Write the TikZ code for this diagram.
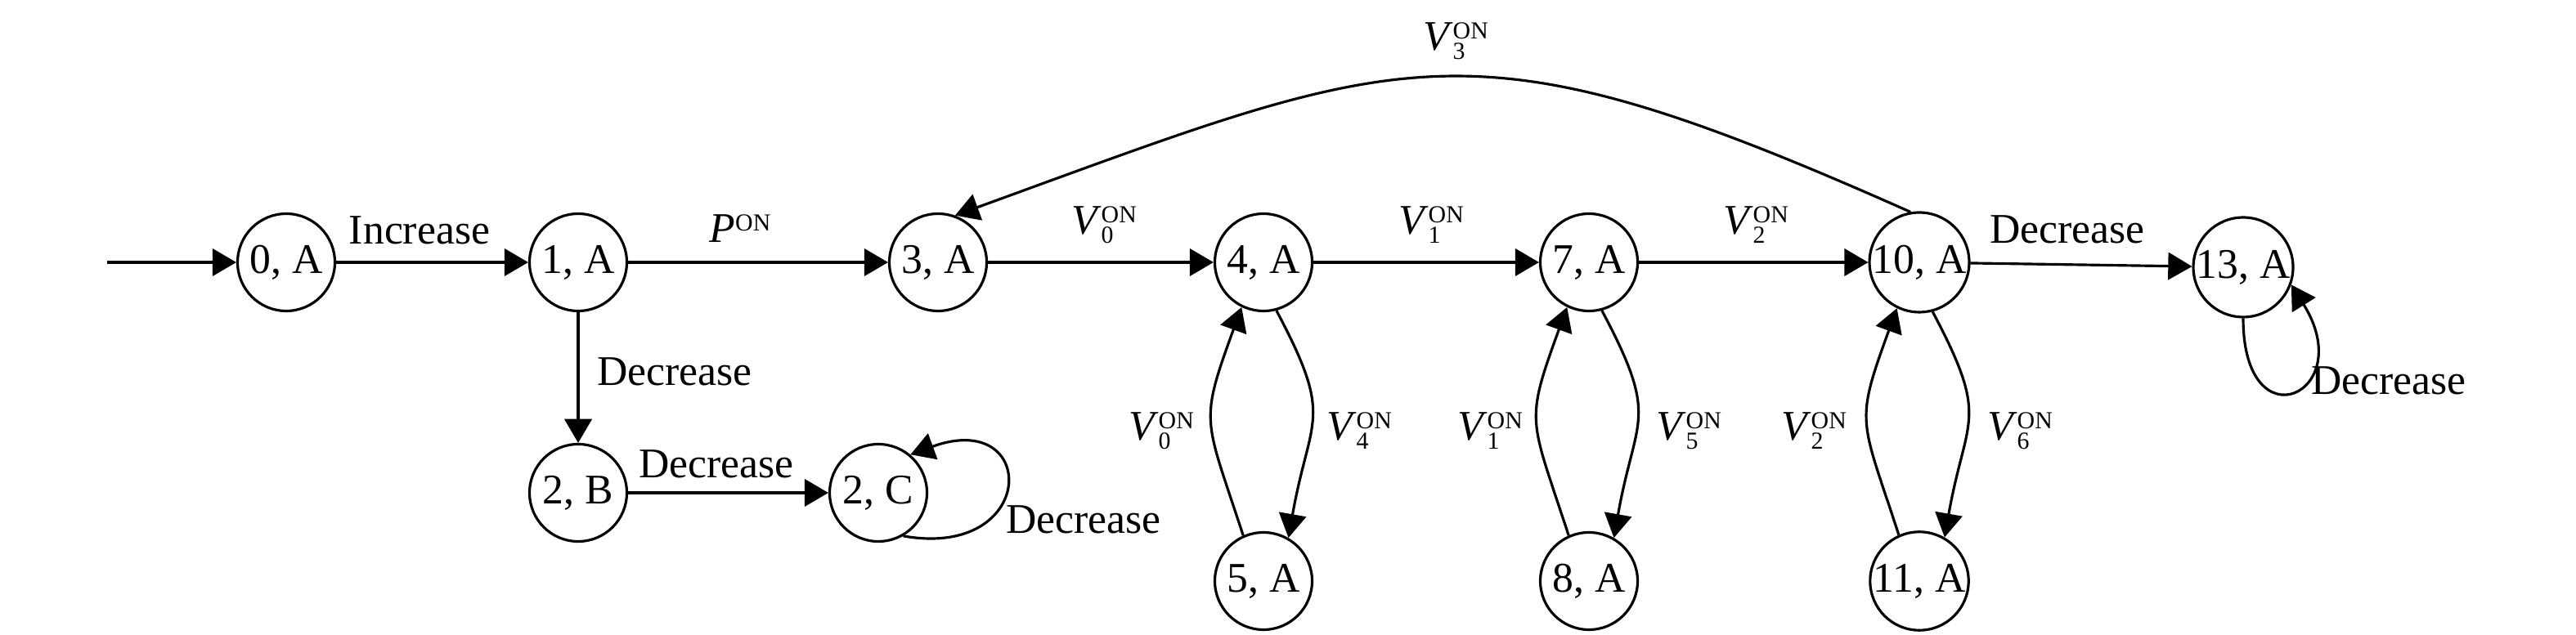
\documentclass[tikz,border=0pt]{standalone}
\usepackage{fontspec}
\setmainfont{Liberation Serif}
\usetikzlibrary{
  arrows.meta,
  positioning
}
\tikzset{
  stnode/.style={draw, circle, line width=0.9pt, minimum size=1.19cm, inner sep=0pt},
  trans/.style={line width=0.9pt, -{Triangle[length=8.3pt,width=9.5pt]}}
}
\newcommand{\subsz}{\fontsize{8.5}{10}\selectfont}
\newcommand{\von}[1]{\textit{V}\rlap{\raisebox{-3pt}{\subsz #1}}\raisebox{4pt}{\subsz ON}}

\begin{document}
\begin{tikzpicture}[font=\fontsize{14.7}{17}\selectfont]
  \useasboundingbox (0,0) rectangle (31.5,7.77);
  % states
  \node[stnode] (s0) at (3.50,4.56) {0, A};
  \node[stnode] (s1) at (7.07,4.56) {1, A};
  \node[stnode] (s3) at (11.47,4.56) {3, A};
  \node[stnode] (s4) at (15.45,4.56) {4, A};
  \node[stnode] (s7) at (19.43,4.56) {7, A};
  \node[stnode] (s10) at (23.47,4.56) {10, A};
  \node[stnode] (s13) at (27.43,4.50) {13, A};
  \node[stnode] (s2b) at (7.07,1.74) {2, B};
  \node[stnode] (s2c) at (10.74,1.74) {2, C};
  \node[stnode] (s5) at (15.45,0.66) {5, A};
  \node[stnode] (s8) at (19.43,0.66) {8, A};
  \node[stnode] (s11) at (23.47,0.66) {11, A};
  \coordinate (in0) at (1.31,4.56);

  % transitions
  \draw[trans] (in0) -- (s0);
  \draw[trans] (s0) -- (s1);
  \draw[trans] (s1) -- (s3);
  \draw[trans] (s1) -- (s2b);
  \draw[trans] (s2b) -- (s2c);
  \draw[trans] (s3) -- (s4);
  \draw[trans] (s4) -- (s7);
  \draw[trans] (s7) -- (s10);
  \draw[trans] (s10) -- (s13);
  \draw[trans] (s10.100) to[out=156, in=20, looseness=1.3] (s3.70);
  \draw[trans] (s5.114) to[out=108, in=250, looseness=1.4] (s4.244);
  \draw[trans] (s4.-75) to[out=-62, in=80, looseness=1.4] (s5.60);
  \draw[trans] (s8.114) to[out=108, in=250, looseness=1.4] (s7.244);
  \draw[trans] (s7.-75) to[out=-62, in=80, looseness=1.4] (s8.60);
  \draw[trans] (s11.114) to[out=108, in=250, looseness=1.4] (s10.244);
  \draw[trans] (s10.-75) to[out=-62, in=80, looseness=1.4] (s11.60);
  \draw[trans] (s2c.-60) to[out=-10, in=20, looseness=4.3] (s2c.50);
  \draw[trans] (s13.-90) to[out=-90, in=-58, looseness=5.6] (s13.-20);

  % labels
  \node (lInc) at (5.13,4.95) {Increase};
  \node (lP) at (9.05,4.97) {\textit{P}\raisebox{4pt}{\subsz ON}};
  \node (lDec1) at (8.25,3.22) {Decrease};
  \node (lDec2) at (8.76,2.09) {Decrease};
  \node (lDec3) at (13.25,1.41) {Decrease};
  \node (lDec4) at (25.28,4.96) {Decrease};
  \node (lDec5) at (29.21,3.11) {Decrease};
  \node (lV0) at (13.50,5.02) {\von{0}};
  \node (lV1) at (17.50,5.02) {\von{1}};
  \node (lV2) at (21.47,5.02) {\von{2}};
  \node (lV3) at (17.80,7.27) {\von{3}};
  \node (lV0b) at (14.20,2.50) {\von{0}};
  \node (lV4) at (16.62,2.50) {\von{4}};
  \node (lV1b) at (18.22,2.50) {\von{1}};
  \node (lV5) at (20.65,2.50) {\von{5}};
  \node (lV2b) at (22.18,2.50) {\von{2}};
  \node (lV6) at (24.70,2.50) {\von{6}};
\end{tikzpicture}
\end{document}
